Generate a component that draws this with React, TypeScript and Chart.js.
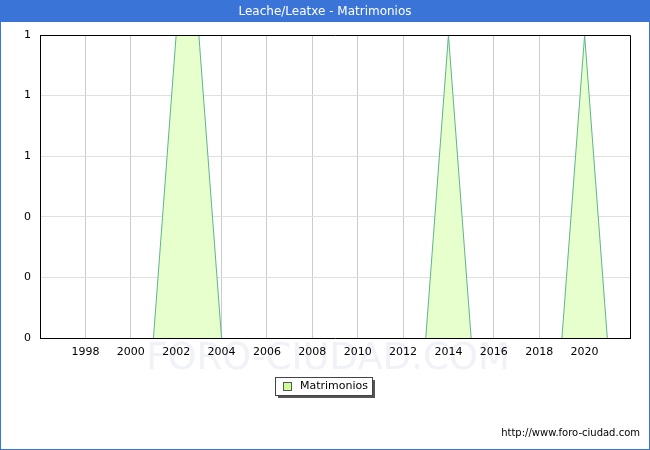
import React, { useEffect, useRef } from "react";
import { Chart, registerables } from "chart.js";

Chart.register(...registerables);

const TITLE = "Leache/Leatxe - Matrimonios";
const SERIES_LABEL = "Matrimonios";
const URL_TEXT = "http://www.foro-ciudad.com";
const WATERMARK = "FORO-CIUDAD.COM";

const years = [1996, 1997, 1998, 1999, 2000, 2001, 2002, 2003, 2004, 2005, 2006, 2007, 2008, 2009, 2010, 2011, 2012, 2013, 2014, 2015, 2016, 2017, 2018, 2019, 2020, 2021];
const values = [0, 0, 0, 0, 0, 0, 1, 1, 0, 0, 0, 0, 0, 0, 0, 0, 0, 0, 1, 0, 0, 0, 0, 0, 1, 0];

const X_MIN = 1996;
const X_MAX = 2022;
const Y_MIN = 0;
const Y_MAX = 1;
const Y_STEP = 0.2;

const BLUE = "#3a74d6";
const FONT = "'DejaVu Sans', sans-serif";

export default function App() {
  const ref = useRef<HTMLCanvasElement | null>(null);

  useEffect(() => {
    if (!ref.current) return;
    const frame = {
      id: "frame",
      beforeDraw(chart: any) {
        const { ctx, width, height } = chart;
        ctx.save();
        ctx.fillStyle = "#ffffff";
        ctx.fillRect(0, 0, width, height);
        // watermark
        ctx.fillStyle = "rgba(225,225,240,0.45)";
        ctx.font = `37px ${FONT}`;
        ctx.textAlign = "center";
        ctx.textBaseline = "alphabetic";
        ctx.fillText(WATERMARK, 328, 369);
        ctx.restore();
      },
      afterDraw(chart: any) {
        const { ctx, width, height, chartArea } = chart;
        ctx.save();
        // plot border top/right
        ctx.strokeStyle = "#000000";
        ctx.lineWidth = 1;
        ctx.beginPath();
        ctx.moveTo(chartArea.left, chartArea.top + 0.5);
        ctx.lineTo(chartArea.right + 0.5, chartArea.top + 0.5);
        ctx.lineTo(chartArea.right + 0.5, chartArea.bottom);
        ctx.stroke();
        // title bar
        ctx.fillStyle = BLUE;
        ctx.fillRect(0, 0, width, 22);
        ctx.fillStyle = "#ffffff";
        ctx.font = `12px ${FONT}`;
        ctx.textAlign = "center";
        ctx.textBaseline = "middle";
        ctx.fillText(TITLE, width / 2, 12);
        // outer border
        ctx.strokeStyle = BLUE;
        ctx.strokeRect(0.5, 0.5, width - 1, height - 1);
        // legend
        const lx = 275, ly = 377, lw = 97, lh = 18;
        ctx.fillStyle = "#555555";
        ctx.fillRect(lx + 3, ly + 3, lw, lh);
        ctx.fillStyle = "#ffffff";
        ctx.fillRect(lx, ly, lw, lh);
        ctx.strokeStyle = "#444444";
        ctx.strokeRect(lx + 0.5, ly + 0.5, lw, lh);
        ctx.fillStyle = "#ccff99";
        ctx.fillRect(lx + 8, ly + 5, 8, 8);
        ctx.strokeStyle = "#555555";
        ctx.strokeRect(lx + 8.5, ly + 5.5, 8, 8);
        ctx.fillStyle = "#000000";
        ctx.font = `11px ${FONT}`;
        ctx.textAlign = "left";
        ctx.textBaseline = "middle";
        ctx.fillText(SERIES_LABEL, lx + 25, ly + 9.5);
        // url
        ctx.font = `10px ${FONT}`;
        ctx.textAlign = "right";
        ctx.fillText(URL_TEXT, 640, 433);
        ctx.restore();
      },
    };

    const chart = new Chart(ref.current, {
      type: "line",
      data: {
        datasets: [
          {
            label: SERIES_LABEL,
            data: years.map((y, i) => ({ x: y, y: values[i] })),
            borderColor: "#5fb48e",
            borderWidth: 1,
            backgroundColor: "#e6ffcc",
            fill: "origin",
            tension: 0,
            pointRadius: 0,
            segment: {
              borderColor: (c: any) =>
                c.p0.parsed.y === 0 && c.p1.parsed.y === 0 ? "rgba(0,0,0,0)" : "#5fb48e",
            },
          },
        ],
      },
      options: {
        responsive: false,
        animation: false,
        devicePixelRatio: 1,
        layout: { padding: { left: 0, top: 35, right: 20, bottom: 0 } },
        plugins: {
          legend: { display: false },
          title: { display: false },
          tooltip: { enabled: false },
        },
        scales: {
          x: {
            type: "linear",
            min: X_MIN,
            max: X_MAX,
            afterFit: (s: any) => {
              s.height = 112;
            },
            afterBuildTicks: (s: any) => {
              const t = [];
              for (let v = X_MIN; v <= X_MAX; v += 2) t.push({ value: v });
              s.ticks = t;
            },
            ticks: {
              autoSkip: false,
              maxRotation: 0,
              padding: 8,
              color: "#000000",
              font: { family: FONT, size: 11 },
              callback: (v: any) => (v === X_MIN || v === X_MAX ? "" : String(v)),
            },
            grid: { color: "#cccccc", drawTicks: false, lineWidth: 1 },
            border: { color: "#000000", width: 1 },
          },
          y: {
            min: Y_MIN,
            max: Y_MAX,
            afterFit: (s: any) => {
              s.width = 40;
            },
            ticks: {
              stepSize: Y_STEP,
              padding: 9,
              color: "#000000",
              font: { family: FONT, size: 11 },
              callback: (v: any) => String(Math.round(Number(v))),
            },
            grid: { color: "#e0e0e0", drawTicks: false, lineWidth: 1 },
            border: { color: "#000000", width: 1 },
          },
        },
      },
      plugins: [frame],
    });
    return () => chart.destroy();
  }, []);

  return (
    <div style={{ position: "fixed", left: 0, top: 0, width: 650, height: 450 }}>
      <canvas ref={ref} width={650} height={450} style={{ display: "block", width: 650, height: 450 }} />
    </div>
  );
}
